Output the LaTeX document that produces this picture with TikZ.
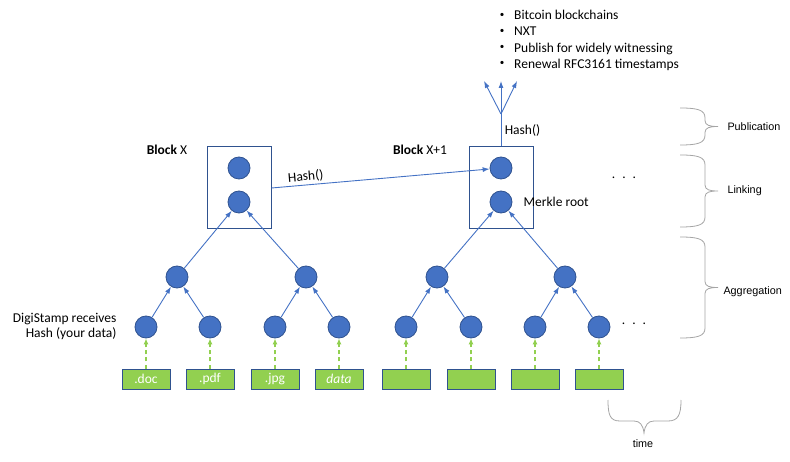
\documentclass[tikz,border=0pt]{standalone}
\usepackage{fontspec}
\setmainfont{Carlito}
\newfontfamily\arialfont{Liberation Sans}
\usetikzlibrary{arrows.meta}
\definecolor{modra}{RGB}{68,114,196}
\definecolor{tmava}{RGB}{47,82,143}
\definecolor{zelena}{RGB}{146,208,80}
\definecolor{seda}{RGB}{165,165,165}

\begin{document}
\begin{tikzpicture}[x=1pt,y=-1pt,font=\fontsize{13.5}{15}\selectfont]
    \tikzstyle{uzel}= [circle,fill=modra,draw=tmava,line width=0.8pt,minimum size=22pt,inner sep=0pt]
    \tikzstyle{soubor}= [rectangle,fill=zelena,draw=tmava,line width=1pt,minimum width=48pt,minimum height=20pt,inner sep=0pt,text=white]
    \tikzstyle{blok}= [rectangle,draw=tmava,line width=1pt,minimum width=64pt,minimum height=82pt]
    \tikzstyle{sipkaT}= [modra,line width=0.9pt,-{Latex[length=7pt,width=5pt]}]
    \tikzstyle{sipkaD}= [zelena,line width=1.5pt,dash pattern=on 4pt off 3pt,-{Latex[length=6pt,width=5pt]}]
    \tikzstyle{zavorka}= [seda,line width=0.8pt]
    \tikzstyle{popis}= [font=\arialfont\fontsize{10.8}{12}\selectfont]
  \def\klamra#1#2#3{
    \pgfmathsetmacro{\kmid}{(#2+#3)/2}
    \draw[zavorka] (#1,#2) .. controls (#1+18,#2) and (#1+25,#2+2) .. (#1+25,#2+10) -- (#1+25,\kmid-6)
      .. controls (#1+25,\kmid-1) and (#1+30,\kmid) .. (#1+38,\kmid)
      .. controls (#1+30,\kmid) and (#1+25,\kmid+1) .. (#1+25,\kmid+6) -- (#1+25,#3-10)
      .. controls (#1+25,#3-2) and (#1+18,#3) .. (#1,#3);
  }

  \useasboundingbox (0,0) rectangle (790,462);

  \foreach \x/\t [count=\i] in {146/.doc,210/.pdf,275/.jpg,339/{\textit{data}},406/{},471/{},535/{},599/{}} {
    \node[soubor] (d\i) at (\x,379) {\t};
    \node[uzel] (l\i) at (\x,327) {};
  }
  \foreach \x [count=\i] in {177,306,437,565}
    \node[uzel] (m\i) at (\x,277) {};
  \foreach \x [count=\i] in {239,501} {
    \node[blok] (bx\i) at (\x,188) {};
    \node[uzel] (t\i) at (\x,168) {};
    \node[uzel] (r\i) at (\x,202) {};
  }

  \foreach \i in {1,...,8}
    \draw[sipkaD] (d\i) -- (l\i);
  \foreach \i/\j in {1/1,2/1,3/2,4/2,5/3,6/3,7/4,8/4}
    \draw[sipkaT] (l\i) -- (m\j);
  \foreach \i/\j in {1/1,2/1,3/2,4/2}
    \draw[sipkaT] (m\i) -- (r\j);

  \draw[sipkaT] (bx1.east) -- node[pos=0.16,above,sloped,inner sep=2pt,text=black] (h1) {Hash()} (t2);

  \coordinate (fan) at (501,114);
  \draw[modra,line width=0.9pt] (bx2.north) -- node[right,text=black] (h2) {Hash()} (fan);
  \foreach \x [count=\i] in {484,501,517} {
    \coordinate (v\i) at (\x,81);
    \draw[sipkaT] (fan) -- (v\i);
  }

  \foreach \t [count=\i] in {Bitcoin blockchains,NXT,Publish for widely witnessing,Renewal RFC3161 timestamps} {
    \node[inner sep=0pt,font=\fontsize{9}{9}\selectfont] (o\i) at (502,{15+16.3*(\i-1)}) {\textbullet};
    \node[anchor=base west,inner sep=0pt] (i\i) at (514,{19.7+16.3*(\i-1)}) {\t};
  }

  \node (bl1) at (167,150) {\textbf{Block} X};
  \node (bl2) at (420,150) {\textbf{Block} X+1};
  \node[anchor=west] (mr) at (520,202) {Merkle root};
  \node[anchor=base] (e1) at (624,179) {.\hspace{7pt}.\hspace{7pt}.};
  \node[anchor=base] (e2) at (634,325) {.\hspace{7pt}.\hspace{7pt}.};
  \node[anchor=east,align=right] (ds) at (120,326) {DigiStamp receives\\Hash (your data)};

  \klamra{680}{108}{145}
  \klamra{680}{155}{227}
  \klamra{680}{237}{338}
  \node[popis,anchor=west] (pub) at (724,127) {Publication};
  \node[popis,anchor=west] (lin) at (724,191) {Linking};
  \node[popis,anchor=west] (agg) at (720,292) {Aggregation};

  \draw[zavorka] (608,400) .. controls (608,415) and (610,421) .. (620,421) -- (634,421)
    .. controls (640,421) and (643,425) .. (644,433) .. controls (645,425) and (648,421) .. (654,421)
    -- (668,421) .. controls (678,421) and (681,415) .. (681,400);
  \node[popis] (cas) at (643,444) {time};

\end{tikzpicture}
\end{document}
